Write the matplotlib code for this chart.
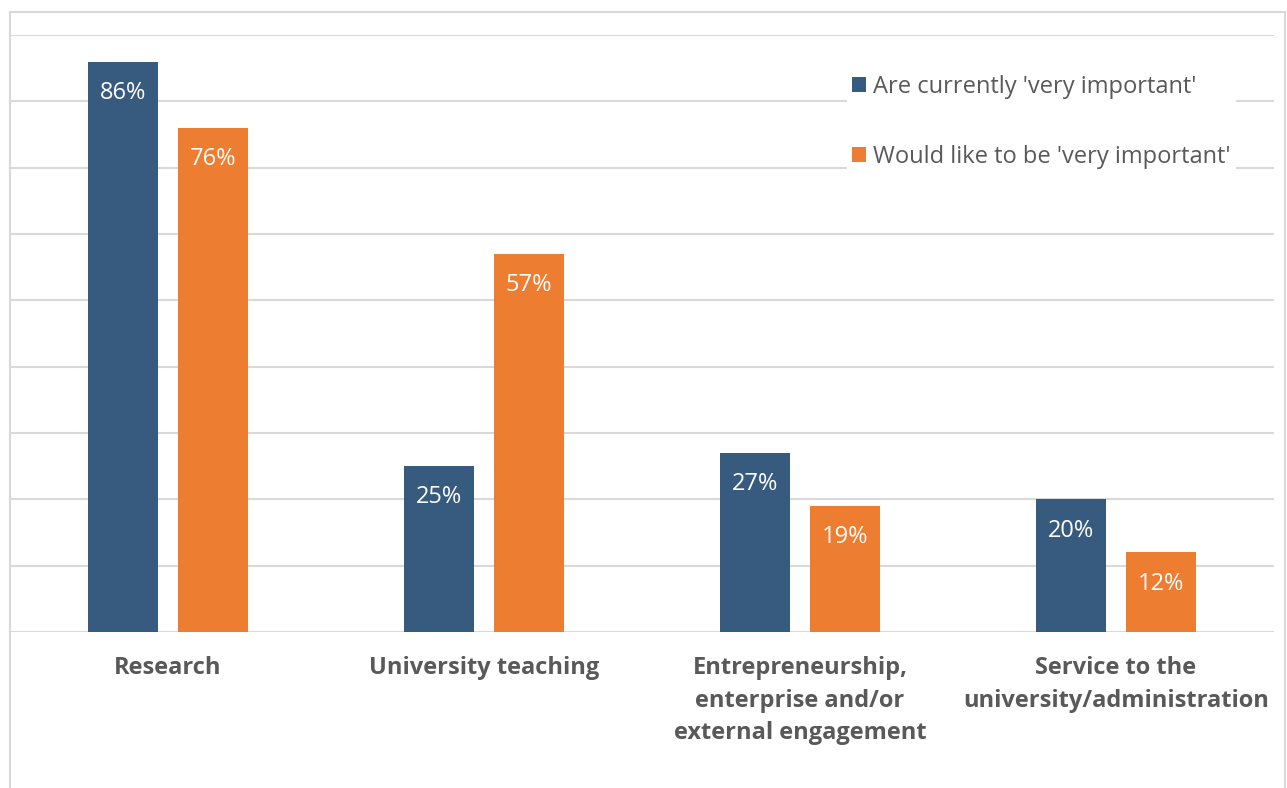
import matplotlib
matplotlib.use("Agg")
import matplotlib.pyplot as plt
import numpy as np
from matplotlib.patches import Rectangle

plt.rcParams['font.family'] = ['Open Sans', 'DejaVu Sans']

categories = ["Research", "University teaching",
              "Entrepreneurship,\nenterprise and/or\nexternal engagement",
              "Service to the\nuniversity/administration"]
series_names = ["Are currently 'very important'", "Would like to be 'very important'"]
current = [86, 25, 27, 20]
would_like = [76, 57, 19, 12]
colors = ["#375a7f", "#ed7d31"]

W, H = 1287, 788
fig = plt.figure(figsize=(W / 100, H / 100), dpi=100)
fig.patches.append(Rectangle((10 / W, -0.1), 1275 / W, 1.1 - 12 / H, transform=fig.transFigure,
                             fill=False, edgecolor="#d9d9d9", linewidth=1.5))

ax = fig.add_axes([10 / W, 1 - 632 / H, 1264 / W, (632 - 35) / H])
x = np.arange(len(categories))
bw = 70 / 316
off = 45 / 316
b1 = ax.bar(x - off, current, bw, color=colors[0], label=series_names[0], zorder=3)
b2 = ax.bar(x + off, would_like, bw, color=colors[1], label=series_names[1], zorder=3)

for bars, vals in ((b1, current), (b2, would_like)):
    for rect, v in zip(bars, vals):
        ax.annotate(f"{v}%", (rect.get_x() + rect.get_width() / 2, rect.get_height()),
                    xytext=(0, -22.5), textcoords="offset points", ha="center", va="center",
                    color="white", fontsize=17, zorder=4)

ax.set_xlim(-0.5, 3.5)
ax.set_ylim(0, 90)
ax.set_yticks(np.arange(0, 91, 10))
ax.yaxis.grid(True, color="#d9d9d9", linewidth=1.5, zorder=0)
ax.tick_params(axis="y", left=False, labelleft=False)
ax.tick_params(axis="x", bottom=False, pad=14)
ax.set_xticks(x)
ax.set_xticklabels(categories, fontsize=17, fontweight="bold", color="#595959", linespacing=1.47,
                   va="top")
for s in ("top", "right", "left", "bottom"):
    ax.spines[s].set_visible(False)

leg = fig.legend(loc="upper left", bbox_to_anchor=(835 / W, 1 - 58 / H), frameon=True,
                 fontsize=17, labelspacing=1.95, handlelength=0.6, handleheight=0.6,
                 handletextpad=0.3, borderpad=0.2, fancybox=False)
leg.get_frame().set_facecolor("white")
leg.get_frame().set_edgecolor("white")
leg.get_frame().set_alpha(1)
for t in leg.get_texts():
    t.set_color("#595959")

fig.savefig("out.png", dpi=100)
